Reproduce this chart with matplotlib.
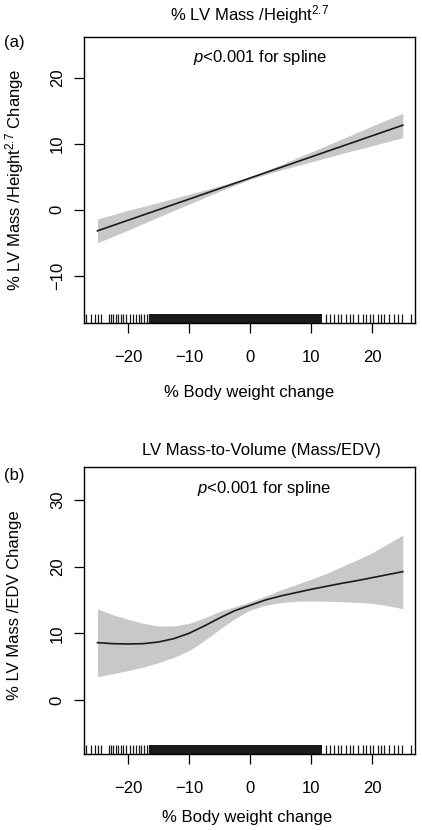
## spline plots of LV mass change vs body weight change

import numpy as np
import matplotlib
matplotlib.use("Agg")
import matplotlib.pyplot as plt
from matplotlib import rcParams

rcParams.update({
    "font.family": ["Liberation Sans", "DejaVu Sans"],
    "font.size": 12,
    "mathtext.fontset": "custom",
    "mathtext.rm": "Liberation Sans",
    "mathtext.it": "Liberation Sans:italic",
    "mathtext.default": "regular",
})

# panel (a): % LV mass / height^2.7 change
x_a = [-25, -20, -15, -10, -5, 0, 5, 10, 15, 20, 25]
fit_a = [-3.2, -1.6, 0.0, 1.6, 3.2, 4.8, 6.4, 8.0, 9.6, 11.2, 12.8]
lo_a = [-5.0, -3.1, -1.1, 0.85, 2.8, 4.6, 6.0, 7.25, 8.5, 9.7, 10.9]
hi_a = [-1.4, -0.1, 1.1, 2.35, 3.6, 5.0, 6.8, 8.75, 10.7, 12.7, 14.6]

# panel (b): % LV mass / EDV change
x_b = [-25, -22.5, -20, -17.5, -15, -12.5, -10, -7.5, -5, -2.5, 0,
       2.5, 5, 7.5, 10, 12.5, 15, 17.5, 20, 22.5, 25]
fit_b = [8.6, 8.45, 8.4, 8.45, 8.7, 9.2, 10.0, 11.1, 12.3, 13.4, 14.2,
         15.0, 15.6, 16.1, 16.6, 17.05, 17.5, 17.9, 18.35, 18.8, 19.25]
lo_b = [3.5, 3.95, 4.4, 4.95, 5.6, 6.4, 7.4, 8.9, 10.6, 12.2, 13.5,
        14.2, 14.6, 14.8, 14.85, 14.8, 14.75, 14.65, 14.5, 14.15, 13.7]
hi_b = [13.65, 12.8, 12.1, 11.5, 11.1, 11.1, 11.5, 12.3, 13.3, 14.0, 14.7,
        15.6, 16.5, 17.3, 18.1, 19.0, 20.0, 21.0, 22.1, 23.4, 24.75]

# rug of observed body weight changes (sparse tails + solid dense core)
rug_x = [-26.8, -26.0, -25.4, -24.9, -24.4, -23.1, -22.7, -22.4, -22.0,
         -21.6, -21.2, -20.8, -20.4, -19.6, -19.1, -18.7, -18.2, -17.8,
         -17.4, -16.9, -16.6,
         12.35, 13.0, 13.7, 14.4, 14.9, 15.7, 16.3, 16.9, 17.6, 18.5, 19.0,
         19.6, 20.2, 20.9, 21.5, 22.0, 22.8, 23.5, 24.2, 24.9, 26.4]
rug_dense = (-16.5, 11.8)

x_ticks = [-20, -10, 0, 10, 20]
xlim = (-27.2, 27.0)

W, H = 422, 830
fig = plt.figure(figsize=(W / 100, H / 100), dpi=100)


def px(x, y):
    return x / W, 1 - y / H


def draw_panel(ax, x, fit, lo, hi, ylim, yticks):
    ax.fill_between(x, lo, hi, color="#c8c8c8", lw=0)
    ax.plot(x, fit, color="#1a1a1a", lw=1.2)
    trans = ax.get_xaxis_transform()
    ax.vlines(rug_x, 0, 0.033, transform=trans, color="#1a1a1a", lw=0.9)
    ax.fill_between(rug_dense, 0, 0.033, transform=trans, color="#1a1a1a", lw=0)
    ax.set_xlim(*xlim)
    ax.set_ylim(*ylim)
    ax.set_xticks(x_ticks)
    ax.set_yticks(yticks)
    ax.set_yticklabels([str(v) if v >= 0 else "\u2212" + str(-v) for v in yticks],
                       rotation=90, ha="center", va="center", rotation_mode="default")
    ax.tick_params(direction="out", length=7.2, width=0.9, labelsize=12)
    ax.tick_params(axis="x", pad=12)
    ax.tick_params(axis="y", pad=12)
    for s in ax.spines.values():
        s.set_linewidth(1.0)


# panel (a)
ax1 = fig.add_axes([84 / W, 1 - 323.3 / H, 331 / W, 286.6 / H])
draw_panel(ax1, x_a, fit_a, lo_a, hi_a, (-17.2, 26.2), [-10, 0, 10, 20])
ax1.text(0.532, 0.929, "$\\it{p}$<0.001 for spline", transform=ax1.transAxes,
         ha="center", va="center", fontsize=12)
fig.text(*px(250, 15), "% LV Mass /Height$^{2.7}$", ha="center", va="center", fontsize=12)
fig.text(*px(4, 43), "(a)", ha="left", va="center", fontsize=12)
fig.text(*px(249, 392), "% Body weight change", ha="center", va="center", fontsize=12)
fig.text(*px(15, 180), "% LV Mass /Height$^{2.7}$ Change", ha="center", va="center",
         rotation=90, fontsize=12)

# panel (b)
ax2 = fig.add_axes([84 / W, 1 - 754 / H, 331 / W, 286.7 / H])
draw_panel(ax2, x_b, fit_b, lo_b, hi_b, (-8.1, 34.9), [0, 10, 20, 30])
ax2.text(0.545, 0.927, "$\\it{p}$<0.001 for spline", transform=ax2.transAxes,
         ha="center", va="center", fontsize=12)
fig.text(*px(261, 450), "LV Mass-to-Volume (Mass/EDV)", ha="center", va="center", fontsize=12)
fig.text(*px(4, 475), "(b)", ha="left", va="center", fontsize=12)
fig.text(*px(247, 817), "% Body weight change", ha="center", va="center", fontsize=12)
fig.text(*px(15, 605), "% LV Mass /EDV Change", ha="center", va="center",
         rotation=90, fontsize=12)

fig.savefig("out.png", dpi=100)
